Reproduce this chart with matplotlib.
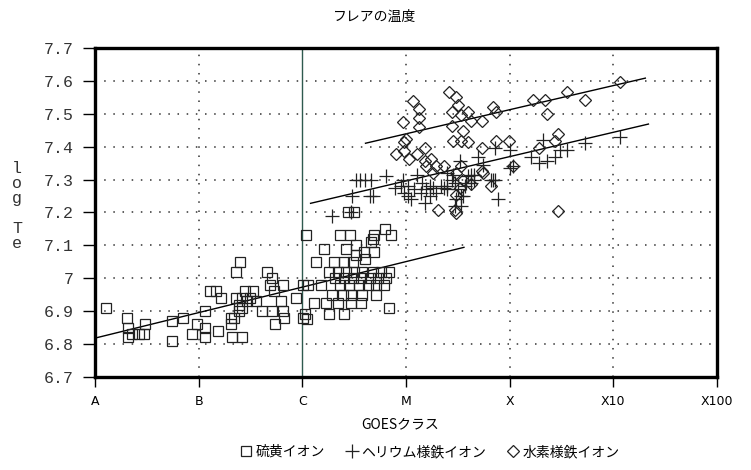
import numpy as np
import matplotlib as mpl
mpl.use("Agg")
from matplotlib import pyplot as plt

plt.rcParams['font.family'] = ['Noto Sans CJK JP', 'DejaVu Sans']

# GOES class positions (A=0 ... X100=6)
class_labels = ['A', 'B', 'C', 'M', 'X', 'X10', 'X100']
logte_ticks = [6.7, 6.8, 6.9, 7.0, 7.1, 7.2, 7.3, 7.4, 7.5, 7.6, 7.7]
logte_labels = ['6.7', '6.8', '6.9', '7', '7.1', '7.2', '7.3', '7.4', '7.5', '7.6', '7.7']

# 硫黄イオン (squares)
s_x = [0.11, 0.31, 0.32, 0.32, 0.36, 0.42, 0.47, 0.48, 0.74, 0.74, 0.85, 0.94, 0.98,
       1.06, 1.06, 1.06, 1.11, 1.17, 1.22, 1.19, 1.31, 1.31, 1.32, 1.42, 1.36, 1.40,
       1.36, 1.39, 1.42, 1.45, 1.47, 1.50, 1.52, 1.55, 1.39, 1.42, 1.34, 1.61, 1.66,
       1.71, 1.69, 1.81, 1.73, 1.79, 1.81, 1.82, 1.74, 1.71, 1.94, 2.01, 2.01,
       2.04, 2.36, 2.46, 2.69, 2.80, 2.86,
       2.21, 2.42, 2.52, 2.52, 2.60, 2.66, 2.69, 2.68,
       2.13, 2.31, 2.40, 2.49, 2.61,
       2.26, 2.34, 2.42, 2.50, 2.58, 2.68, 2.76, 2.84,
       2.32, 2.40, 2.49, 2.57, 2.65, 2.73, 2.81,
       2.06, 2.18, 2.36, 2.45, 2.55, 2.63, 2.71, 2.79,
       2.29, 2.39, 2.47, 2.58, 2.71,
       2.11, 2.23, 2.34, 2.47, 2.57,
       2.03, 2.26, 2.40, 2.84, 2.05, 2.44, 2.50]
s_y = [6.91, 6.88, 6.85, 6.82, 6.83, 6.83, 6.83, 6.86, 6.87, 6.81, 6.88, 6.83, 6.86,
       6.90, 6.85, 6.82, 6.96, 6.96, 6.94, 6.84, 6.86, 6.88, 6.82, 6.82, 7.02, 7.05,
       6.94, 6.92, 6.94, 6.96, 6.93, 6.94, 6.96, 6.93, 6.90, 6.91, 6.88, 6.90, 7.02,
       7.00, 6.98, 6.98, 6.96, 6.93, 6.90, 6.88, 6.86, 6.90, 6.94, 6.98, 6.88,
       7.13, 7.13, 7.13, 7.13, 7.15, 7.13,
       7.09, 7.09, 7.10, 7.07, 7.08, 7.11, 7.08, 7.12,
       7.05, 7.05, 7.05, 7.05, 7.06,
       7.02, 7.02, 7.02, 7.02, 7.02, 7.02, 7.02, 7.02,
       7.00, 7.00, 7.00, 7.00, 7.00, 7.00, 7.00,
       6.98, 6.98, 6.98, 6.98, 6.98, 6.98, 6.98, 6.98,
       6.95, 6.95, 6.95, 6.95, 6.95,
       6.925, 6.925, 6.925, 6.925, 6.925,
       6.89, 6.89, 6.89, 6.91, 6.875, 7.20, 7.20]

# ヘリウム様鉄イオン (plus)
he_x = [2.29, 2.48, 2.65, 2.68, 2.52, 2.56, 2.61, 2.66, 2.81, 2.89, 2.47,
        2.95, 2.98, 3.02, 3.05, 3.08, 3.11, 3.16, 3.19, 3.23, 3.26, 3.29, 3.34, 3.40,
        3.44, 3.47, 3.50, 3.53, 3.57, 3.60, 3.63, 3.66, 3.52, 3.70, 3.74, 3.84, 3.89,
        3.47, 3.55, 3.86, 4.00, 4.00,
        2.97, 3.02, 3.15, 3.18, 3.23, 3.40, 3.45, 3.48, 3.53, 3.58, 3.63, 3.86,
        4.03, 3.82, 4.21, 4.28, 4.36, 4.32, 4.44, 4.49, 4.55, 4.73, 5.07,
        3.40, 3.66, 3.37]
he_y = [7.19, 7.25, 7.25, 7.25, 7.30, 7.30, 7.30, 7.30, 7.31, 7.275, 7.20,
        7.28, 7.26, 7.25, 7.24, 7.27, 7.315, 7.29, 7.27, 7.25, 7.275, 7.26, 7.28, 7.27,
        7.30, 7.29, 7.27, 7.25, 7.28, 7.31, 7.29, 7.30, 7.355, 7.37, 7.345, 7.30, 7.24,
        7.22, 7.25, 7.395, 7.39, 7.335,
        7.30, 7.28, 7.26, 7.23, 7.28, 7.28, 7.315, 7.24, 7.22, 7.29, 7.315, 7.30,
        7.34, 7.30, 7.37, 7.35, 7.355, 7.42, 7.37, 7.39, 7.39, 7.41, 7.43,
        7.32, 7.315, 7.275]

# 水素様鉄イオン (diamonds)
h_x = [3.07, 3.13, 3.13, 2.97, 3.13, 3.42, 3.48, 3.50, 3.44, 3.53, 3.60, 3.63, 3.73,
       3.44, 3.55, 3.45, 3.53, 3.60, 3.73, 3.84, 3.87, 3.87, 3.99, 3.00, 2.98, 2.90,
       2.98, 3.03, 3.11, 3.18, 3.18, 3.24, 3.29, 3.37, 3.19, 3.26, 3.53, 3.48, 3.55,
       3.63, 3.73, 3.82, 3.52, 3.31, 3.47, 3.48, 3.48, 4.03, 4.23, 4.34, 4.55, 4.73,
       4.36, 5.07, 4.28, 4.47, 4.44, 4.47, 3.74]
h_y = [7.54, 7.515, 7.487, 7.476, 7.46, 7.567, 7.551, 7.526, 7.505, 7.495, 7.505, 7.479, 7.479,
       7.464, 7.449, 7.418, 7.418, 7.413, 7.397, 7.521, 7.505, 7.418, 7.418, 7.423, 7.413, 7.377,
       7.387, 7.362, 7.377, 7.397, 7.356, 7.362, 7.341, 7.341, 7.341, 7.32, 7.341, 7.32, 7.30,
       7.285, 7.326, 7.279, 7.274, 7.208, 7.208, 7.197, 7.254, 7.341, 7.541, 7.541, 7.567, 7.541,
       7.50, 7.597, 7.397, 7.438, 7.418, 7.203, 7.32]

# fitted lines: (x start, x end, intercept, slope)
s_fit = [0.0, 3.56, 6.818, 0.0775]
he_fit = [2.08, 5.34, 7.074, 0.0739]
h_fit = [2.61, 5.31, 7.219, 0.0733]

fig = plt.figure(figsize=(7.51, 4.70), dpi=100)
ax = fig.add_axes([0.1265, 0.198, 0.828, 0.700])

dot = (0, (1, 5))
for yv in logte_ticks[1:-1]:
    ax.axhline(yv, color='#333333', lw=1.1, ls=dot, zorder=1)
for i in range(1, len(class_labels) - 1):
    if class_labels[i] == 'C':
        ax.axvline(i, color='#2f5a4f', lw=1.0, zorder=1)
    else:
        ax.axvline(i, color='#333333', lw=1.1, ls=dot, zorder=1)

for f in (s_fit, he_fit, h_fit):
    xx = np.array([f[0], f[1]])
    ax.plot(xx, f[2] + f[3] * xx, color='k', lw=1.0, zorder=2)

ax.plot(s_x, s_y, 's', mfc='none', mec='#222222', ms=7, mew=0.9, zorder=3,
        label='硫黄イオン')
ax.plot(he_x, he_y, '+', color='#222222', ms=10, mew=0.9, zorder=3,
        label='ヘリウム様鉄イオン')
ax.plot(h_x, h_y, 'D', mfc='none', mec='#222222', ms=6, mew=0.9, zorder=3,
        label='水素様鉄イオン')

ax.set_xlim(0, len(class_labels) - 1)
ax.set_ylim(6.7, 7.7)
ax.set_xticks(range(len(class_labels)))
ax.set_xticklabels(class_labels, family=['Liberation Sans Narrow', 'DejaVu Sans'],
                   fontsize=9)
ax.set_yticks(logte_ticks)
ax.set_yticklabels(logte_labels, family=['Liberation Mono', 'DejaVu Sans Mono'],
                   fontsize=12, color='#333333')
ax.tick_params(axis='y', direction='out', length=9, width=1.0, pad=6)
ax.tick_params(axis='x', direction='out', length=7, width=1.0, pad=6)
for sp in ax.spines.values():
    sp.set_linewidth(2.4)

fig.text(375 / 751, 1 - 17 / 470, 'フレアの温度', ha='center', va='center', fontsize=10)
fig.text(400 / 751, 1 - 424 / 470, 'GOESクラス', ha='center', va='center', fontsize=10)
fig.text(17 / 751, 1 - 206 / 470, 'l\no\ng\n\nT\ne', ha='center', va='center',
         family=['Liberation Mono', 'DejaVu Sans Mono'], fontsize=12,
         linespacing=1.0, color='#333333')

fig.legend(loc='center', bbox_to_anchor=(430 / 751, 1 - 452 / 470), ncol=3,
           frameon=False, fontsize=10, handlelength=0.8, handletextpad=0.3,
           columnspacing=1.5)

fig.savefig('out.png', dpi=100)
